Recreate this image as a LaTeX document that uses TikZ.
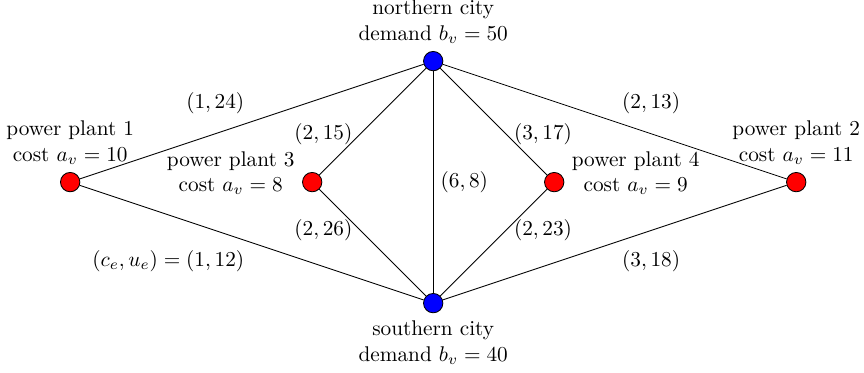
\documentclass[tikz,border=0pt]{standalone}
\usepackage{amsmath, amssymb}
\usepackage{xcolor}

\begin{document}
\begin{tikzpicture}[
    plant/.style={circle, draw, fill=red, minimum size=0.32cm, inner sep=0pt},
    city/.style={circle, draw, fill=blue, minimum size=0.32cm, inner sep=0pt},
    every label/.style={align=center},
]
\useasboundingbox (-7.16,-3.14) rectangle (7.12,3.01);

% Cidades
\node[city, label={above:{northern city\\demand $b_v=50$}}] (north) at (0,2) {};
\node[city, label={below:{southern city\\demand $b_v=40$}}] (south) at (0,-2) {};

% Usinas
\node[plant, label={above:{power plant 1\\cost $a_v=10$}}] (pp1) at (-6,0) {};
\node[plant, label={above:{power plant 2\\cost $a_v=11$}}] (pp2) at (6,0) {};
\node[plant, label={[yshift=0.15cm]left:{power plant 3\\cost $a_v=8$}}] (pp3) at (-2,0) {};
\node[plant, label={[yshift=0.15cm]right:{power plant 4\\cost $a_v=9$}}] (pp4) at (2,0) {};

% Arestas
\draw (pp1) -- node[above left] {$(1,24)$} (north);
\draw (pp1) -- node[below left] {$(c_e,u_e)=(1,12)$} (south);
\draw (pp3) -- node[pos=0.38, left] {$(2,15)$} (north);
\draw (pp3) -- node[pos=0.38, left] {$(2,26)$} (south);
\draw (north) -- node[right] {$(6,8)$} (south);
\draw (pp4) -- node[pos=0.38, right] {$(3,17)$} (north);
\draw (pp4) -- node[pos=0.38, right] {$(2,23)$} (south);
\draw (pp2) -- node[above right] {$(2,13)$} (north);
\draw (pp2) -- node[below right] {$(3,18)$} (south);

\end{tikzpicture}
\end{document}
